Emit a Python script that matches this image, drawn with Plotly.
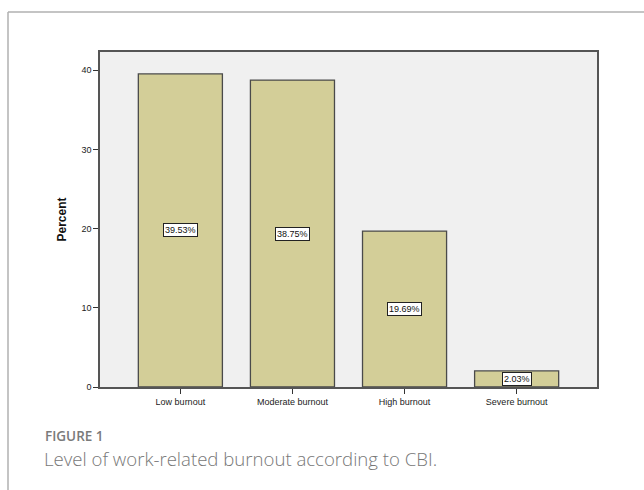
import plotly.graph_objects as go

# Work-related burnout levels (CBI), percent of respondents
categories = ["Low burnout", "Moderate burnout", "High burnout", "Severe burnout"]
percent = [39.53, 38.75, 19.69, 2.03]
y_ticks = [0, 10, 20, 30, 40]

W, H = 644, 490
L, R, T, B = 100, 47, 52, 103
pw, ph = W - L - R, H - T - B

def px_x(x):
    return (x - L) / pw

def px_y(y):
    return 1 - (y - T) / ph

fig = go.Figure()
fig.add_trace(go.Bar(
    x=categories,
    y=percent,
    marker=dict(color="#D3CE98", line=dict(color="#4a4a4a", width=1.3)),
    width=0.75,
    hoverinfo="skip",
))

# value boxes at the middle of each bar
for c, v in zip(categories, percent):
    fig.add_annotation(
        x=c, y=v / 2, text=f"{v:.2f}%", showarrow=False,
        font=dict(family="Arial", size=9, color="#111"),
        bgcolor="white", bordercolor="#222", borderwidth=1, borderpad=1,
    )

# caption frame (left and top edges)
fig.add_shape(type="line", xref="paper", yref="paper",
              x0=px_x(8), y0=px_y(H + 5), x1=px_x(8), y1=px_y(12),
              line=dict(color="#b0b0b0", width=1.5))
fig.add_shape(type="line", xref="paper", yref="paper",
              x0=px_x(8), y0=px_y(12), x1=px_x(W + 5), y1=px_y(12),
              line=dict(color="#b0b0b0", width=1.5))

fig.add_annotation(
    xref="paper", yref="paper", x=px_x(43), y=px_y(436),
    xanchor="left", yanchor="middle", showarrow=False,
    text="FIGURE 1",
    font=dict(family="Open Sans", size=13.5, color="#7a7a7a", weight=600),
)
fig.add_annotation(
    xref="paper", yref="paper", x=px_x(42), y=px_y(458),
    xanchor="left", yanchor="middle", showarrow=False,
    text="Level of work-related burnout according to CBI.",
    font=dict(family="Open Sans", size=18.6, color="#777777", weight=300),
)

fig.update_layout(
    width=W, height=H,
    margin=dict(l=L, r=R, t=T, b=B),
    paper_bgcolor="white",
    plot_bgcolor="#F0F0F0",
    showlegend=False,
    font=dict(family="Arial", size=9, color="#222"),
)
fig.update_xaxes(
    range=[-0.717, 3.717],
    showline=True, mirror=True, linecolor="#555", linewidth=1.5,
    ticks="outside", ticklen=5, tickcolor="#333", tickwidth=1,
    tickfont=dict(family="Arial", size=9, color="#222"),
    showgrid=False, zeroline=False,
)
fig.update_yaxes(
    range=[0, 42.3],
    tickvals=y_ticks,
    showline=True, mirror=True, linecolor="#555", linewidth=1.5,
    ticks="outside", ticklen=5, tickcolor="#333", tickwidth=1,
    tickfont=dict(family="Arial", size=9, color="#222"),
    showgrid=False, zeroline=False,
    title=dict(text="<b>Percent</b>", font=dict(family="Arial", size=12, color="#111"), standoff=12),
)

fig.write_html("out.html")
